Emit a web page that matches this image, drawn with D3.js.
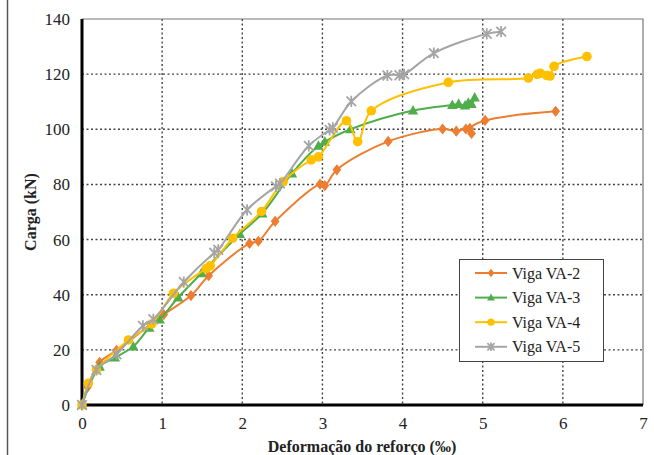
<!DOCTYPE html>
<html><head><meta charset="utf-8">
<script src="https://cdn.jsdelivr.net/npm/d3@7"></script>
<style>body{margin:0;background:#fff}svg{display:block}</style>
</head><body><svg id="c" width="654" height="455"></svg>
<script>
const seriesNames = ["Viga VA-2","Viga VA-3","Viga VA-4","Viga VA-5"];
const seriesColors = ["#ed7d31","#4fae4a","#ffc000","#a5a5a5"];
const seriesMarkers = ["diamond","triangle","circle","star"];
const va2 = [[0,0],[0.07,6.5],[0.22,15.5],[0.43,19.8],[1.02,32.8],[1.36,39.7],[1.58,46.9],[2.09,58.6],[2.2,59.4],[2.41,66.6],[2.97,80.1],[3.03,79.6],[3.18,85.3],[3.82,95.6],[4.5,100.1],[4.67,99.3],[4.79,100.1],[4.86,98.5],[4.84,100.3],[5.03,103.2],[5.91,106.5]];
const va3 = [[0,0],[0.22,13.9],[0.41,17.2],[0.64,21.2],[0.84,28],[0.97,31],[1.2,39],[1.49,47.8],[1.97,62],[2.25,69.5],[2.62,84],[2.95,94],[3.03,95.5],[3.35,100],[4.13,106.8],[4.62,108.8],[4.7,109.2],[4.78,108.6],[4.82,109.6],[4.86,109.2],[4.9,111.5]];
const va4 = [[0,0],[0.08,7.9],[0.18,12.7],[0.58,23.6],[0.87,29.4],[1.14,40.5],[1.55,49.5],[1.6,50.5],[1.88,60.5],[2.24,70.2],[2.51,81],[2.86,88.9],[2.95,90],[3.3,103.1],[3.44,95.5],[3.61,106.7],[4.57,117],[5.57,118.6],[5.68,119.9],[5.72,120.3],[5.8,119.5],[5.84,119.3],[5.89,122.8],[6.3,126.4]];
const va5 = [[0,0],[0.18,12.7],[0.43,18.4],[0.76,28.7],[0.89,31.1],[1.27,44.6],[1.65,55.2],[1.7,56.3],[2.06,70.8],[2.42,79.3],[2.47,80.3],[2.83,94],[3.09,99.8],[3.13,100.5],[3.36,110.1],[3.81,119.5],[3.96,119.6],[4.02,119.9],[4.39,127.6],[5.05,134.6],[5.23,135.4]];
const seriesData = [va2, va3, va4, va5];
const xTicks = [0,1,2,3,4,5,6,7];
const yTicks = [0,20,40,60,80,100,120,140];
const xTitle = "Deformação do reforço (‰)";
const yTitle = "Carga (kN)";

const svg = d3.select("#c");
const L = 82, R = 643, T = 19, B = 405;
const x = d3.scaleLinear().domain([0,7]).range([L,R]);
const y = d3.scaleLinear().domain([0,140]).range([B,T]);
const serif = '"Liberation Serif"';

// figure left border
svg.append("line").attr("x1",7.5).attr("x2",7.5).attr("y1",0).attr("y2",455).attr("stroke","#555").attr("stroke-width",1.5);

// grid
const g = svg.append("g");
g.selectAll(".vg").data(xTicks.filter(d=>d>0&&d<7)).enter().append("line")
  .attr("x1",d=>x(d)).attr("x2",d=>x(d)).attr("y1",T).attr("y2",B)
  .attr("stroke","#444").attr("stroke-width",1.4).attr("stroke-dasharray","2,2.5");
g.selectAll(".hg").data(yTicks.filter(d=>d>0&&d<140)).enter().append("line")
  .attr("x1",L).attr("x2",R).attr("y1",d=>y(d)).attr("y2",d=>y(d))
  .attr("stroke","#444").attr("stroke-width",1.4).attr("stroke-dasharray","2,2.5");
// frame top/right
svg.append("path").attr("d",`M${L},${T}H${R}V${B}`).attr("fill","none").attr("stroke","#777").attr("stroke-width",1.2);

// axes
const xAxis = svg.append("g").attr("transform",`translate(0,${B})`)
  .call(d3.axisBottom(x).tickValues(xTicks).tickSize(0).tickPadding(12).tickFormat(d3.format("d")));
const yAxis = svg.append("g").attr("transform",`translate(${L},0)`)
  .call(d3.axisLeft(y).tickValues(yTicks).tickSize(0).tickPadding(12).tickFormat(d3.format("d")));
[xAxis,yAxis].forEach(a=>{
  a.select(".domain").remove();
  a.attr("font-family",null).attr("font-size",null);
  a.selectAll("text").style("font-family",serif).style("font-size","17px").attr("fill","#222");
});
svg.append("line").attr("x1",L).attr("x2",L).attr("y1",T).attr("y2",B+1.5).attr("stroke","#000").attr("stroke-width",3);
svg.append("line").attr("x1",L-1.5).attr("x2",R).attr("y1",B).attr("y2",B).attr("stroke","#000").attr("stroke-width",3);

// titles
svg.append("text").attr("x",362).attr("y",452).attr("text-anchor","middle")
  .style("font-family",serif).style("font-size","16px").style("font-weight","bold").attr("fill","#222").text(xTitle);
svg.append("text").attr("transform",`translate(36,${(T+B)/2}) rotate(-90)`).attr("text-anchor","middle")
  .style("font-family",serif).style("font-size","16px").style("font-weight","bold").attr("fill","#222").text(yTitle);

// markers
function marker(sel, type, color, s){
  if(type==="circle") sel.append("circle").attr("r",s*0.6).attr("fill",color);
  else if(type==="diamond") sel.append("path").attr("d",`M0,${-s*0.7}L${s*0.55},0L0,${s*0.7}L${-s*0.55},0Z`).attr("fill",color);
  else if(type==="triangle") sel.append("path").attr("d",`M0,${-s*0.7}L${s*0.65},${s*0.5}L${-s*0.65},${s*0.5}Z`).attr("fill",color);
  else sel.append("path").attr("d",`M${-s*0.6},${-s*0.6}L${s*0.6},${s*0.6}M${-s*0.6},${s*0.6}L${s*0.6},${-s*0.6}M0,${-s*0.7}V${s*0.7}`).attr("stroke",color).attr("stroke-width",1.8).attr("fill","none");
}

const line = d3.line().x(d=>x(d[0])).y(d=>y(d[1])).curve(d3.curveCatmullRom.alpha(0.5));
seriesData.forEach((data,i)=>{
  const gs = svg.append("g");
  gs.append("path").datum(data).attr("d",line).attr("fill","none").attr("stroke",seriesColors[i]).attr("stroke-width",2);
  gs.selectAll("g.m").data(data).enter().append("g").attr("transform",d=>`translate(${x(d[0])},${y(d[1])})`)
    .each(function(){ marker(d3.select(this), seriesMarkers[i], seriesColors[i], 8); });
});

// legend
const lg = svg.append("g");
lg.append("rect").attr("x",459.5).attr("y",259.5).attr("width",144).attr("height",102).attr("fill","#fff").attr("stroke","#444").attr("stroke-width",1);
seriesNames.forEach((n,i)=>{
  const yy = 273 + i*24.6;
  lg.append("line").attr("x1",475).attr("x2",507).attr("y1",yy).attr("y2",yy).attr("stroke",seriesColors[i]).attr("stroke-width",2);
  const m = lg.append("g").attr("transform",`translate(491,${yy})`);
  marker(m, seriesMarkers[i], seriesColors[i], 6);
  lg.append("text").attr("x",512).attr("y",yy).attr("dy","0.35em").style("font-family",serif).style("font-size","16px").attr("fill","#222").text(n);
});
</script></body></html>
